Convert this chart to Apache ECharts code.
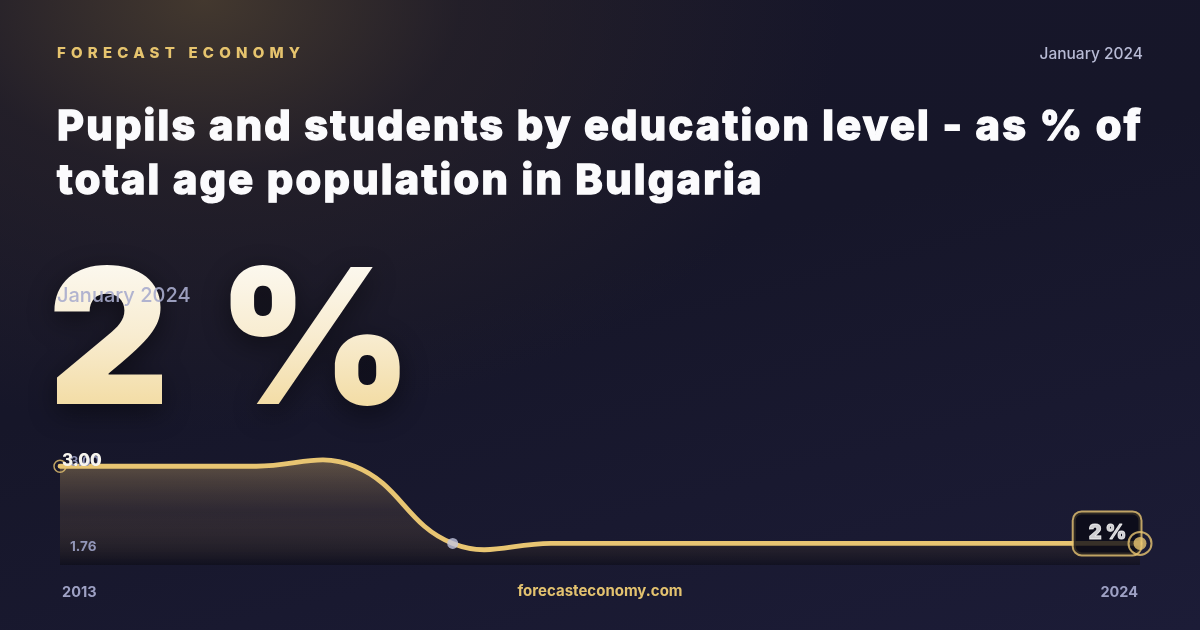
<!DOCTYPE html>
<html><head><meta charset="utf-8">
<script src="https://cdn.jsdelivr.net/npm/echarts@6/dist/echarts.min.js"></script>
<style>
html,body{margin:0;padding:0;width:1200px;height:630px;overflow:hidden;}
body{position:relative;font-family:Inter,'Noto Sans',sans-serif;
background:
 radial-gradient(ellipse 640px 430px at 17% 0%, rgba(72,60,47,0.9) 0%, rgba(45,38,40,0.55) 40%, rgba(22,22,42,0) 100%),
 linear-gradient(165deg,#17162a 0%,#161629 45%,#1c1c37 100%);}
#chart{position:absolute;left:0;top:0;width:1200px;height:630px;}
.t{position:absolute;white-space:nowrap;}
#brand{left:57px;top:43px;font-size:15px;line-height:20px;font-weight:800;letter-spacing:5.2px;color:#e6c46e;}
#date{right:57px;top:44px;font-size:15.5px;line-height:20px;font-weight:500;color:#b7bad4;}
#title{left:57px;top:98px;font-size:41.5px;line-height:54px;font-weight:800;color:#fbfbfd;-webkit-text-stroke:1.3px #fbfbfd;}
#big{left:48px;top:242px;font-size:188px;line-height:188px;font-weight:900;letter-spacing:5px;
 background:linear-gradient(180deg,#fdfcf8 0%,#f8ecd0 50%,#f1d796 100%);-webkit-background-clip:text;background-clip:text;
 -webkit-text-fill-color:transparent;color:transparent;filter:drop-shadow(0 8px 14px rgba(0,0,0,0.45));}
#date2{left:57px;top:283px;font-size:20px;line-height:24px;font-weight:500;color:rgba(168,172,205,0.9);}
#site{left:0;width:1200px;text-align:center;top:581px;font-size:15px;line-height:20px;font-weight:700;color:#e3c26f;}
</style></head>
<body>
<div id="chart"></div>
<div class="t" id="brand">FORECAST ECONOMY</div>
<div class="t" id="date">January 2024</div>
<div class="t" id="title"><span id="tl1">Pupils and students by education level - as % of</span><br><span id="tl2">total age population in Bulgaria</span></div>
<div class="t" id="big">2 %</div>
<div class="t" id="date2">January 2024</div>
<div class="t" id="site">forecasteconomy.com</div>
<script>
const years = ['2013','2014','2015','2016','2017','2018','2019','2020','2021','2022','2023','2024'];
const values = [3, 3, 3, 3, 2, 2, 2, 2, 2, 2, 2, 2];
const yTickLabels = ['3.00', '1.76'];
const yAxisMin = 1.72;
const yAxisMax = 3.12;
const highlightIndex = 4;
const unit = '%';
const smoothness = 0.42;
const GOLD = '#e8c572';

// fit first title line to the reference width
(function () {
  const t = document.getElementById('title');
  const l1 = document.getElementById('tl1');
  const w = l1.getBoundingClientRect().width;
  const target = 1086;
  const n = l1.textContent.length;
  const ls = Math.max(-1, Math.min(3, (target - w) / n));
  t.style.letterSpacing = ls + 'px';
})();

function buildPath(pts, s) {
  const cps = pts.map((p, i) => {
    if (i === 0 || i === pts.length - 1) return { b: p, f: p };
    const prev = pts[i - 1], next = pts[i + 1];
    const vx = next[0] - prev[0], vy = next[1] - prev[1];
    const l0 = Math.hypot(p[0] - prev[0], p[1] - prev[1]);
    const l1 = Math.hypot(next[0] - p[0], next[1] - p[1]);
    const r = l1 / (l0 + l1);
    return { b: [p[0] - vx * s * (1 - r), p[1] - vy * s * (1 - r)], f: [p[0] + vx * s * r, p[1] + vy * s * r] };
  });
  let d = 'M' + pts[0][0] + ',' + pts[0][1];
  for (let i = 1; i < pts.length; i++) {
    const c0 = cps[i - 1].f, c1 = cps[i].b, p = pts[i];
    d += ' C' + c0[0] + ',' + c0[1] + ' ' + c1[0] + ',' + c1[1] + ' ' + p[0] + ',' + p[1];
  }
  return d;
}

const last = values.length - 1;
const chart = echarts.init(document.getElementById('chart'), null, { renderer: 'canvas' });
const areaFill = new echarts.graphic.LinearGradient(0, 0, 0, 1, [
  { offset: 0, color: 'rgba(238,196,118,0.34)' },
  { offset: 0.5, color: 'rgba(160,126,80,0.16)' },
  { offset: 1, color: 'rgba(8,8,14,0.45)' }
]);

chart.setOption({
  animation: false,
  grid: { left: 60, right: 60, top: 457, bottom: 65 },
  xAxis: {
    type: 'category', data: years, boundaryGap: false,
    axisLine: { show: false }, axisTick: { show: false }, splitLine: { show: false },
    axisLabel: {
      interval: (i) => i === 0 || i === years.length - 1,
      alignMinLabel: 'left', alignMaxLabel: 'right',
      color: '#9ea1c4', fontSize: 14.5, fontWeight: 700, fontFamily: 'Inter', margin: 20,
      padding: [0, 2, 0, 2]
    }
  },
  yAxis: {
    type: 'value', min: yAxisMin, max: yAxisMax,
    axisLine: { show: false }, axisTick: { show: false }, splitLine: { show: false }, axisLabel: { show: false }
  },
  series: [
    {
      type: 'custom', coordinateSystem: 'cartesian2d', z: 2, silent: true,
      data: values.map((v, i) => [i, v]),
      encode: { x: 0, y: 1 },
      renderItem: function (params, api) {
        if (params.dataIndex !== 0) return null;
        const pts = values.map((v, i) => api.coord([i, v]));
        const line = buildPath(pts, smoothness);
        const bottom = params.coordSys.y + params.coordSys.height;
        const area = line + ' L' + pts[last][0] + ',' + bottom + ' L' + pts[0][0] + ',' + bottom + ' Z';
        return {
          type: 'group', children: [
            { type: 'path', shape: { pathData: area }, style: { fill: areaFill, stroke: 'none' } },
            { type: 'path', shape: { pathData: line }, style: { fill: 'none', stroke: GOLD, lineWidth: 4.8, lineJoin: 'round', lineCap: 'round' } }
          ]
        };
      }
    },
    {
      type: 'scatter', z: 4, silent: true, symbolSize: 12,
      data: [[0, values[0]]],
      itemStyle: { color: 'rgba(0,0,0,0)', borderColor: GOLD, borderWidth: 1.5 }
    },
    {
      type: 'scatter', z: 4, silent: true, symbolSize: 11,
      data: [[highlightIndex, values[highlightIndex]]],
      itemStyle: { color: '#c3c6dd' }
    },
    {
      type: 'scatter', z: 3, silent: true, symbolSize: 1,
      data: [[last, values[last]]],
      itemStyle: { color: 'rgba(0,0,0,0)' },
      label: {
        show: true, position: 'left', distance: 0, offset: [1, -10],
        formatter: () => values[last] + ' ' + unit,
        color: '#ffffff', fontSize: 20, fontWeight: 900, fontFamily: 'Inter', lineHeight: 22,
        textBorderColor: '#ffffff', textBorderWidth: 0.8,
        backgroundColor: '#0a0a15', borderColor: GOLD, borderWidth: 2, borderRadius: 8,
        padding: [10, 14, 10, 15]
      }
    },
    {
      type: 'scatter', z: 5, silent: true, symbolSize: 23,
      data: [[last, values[last]]],
      itemStyle: { color: 'rgba(0,0,0,0)', borderColor: GOLD, borderWidth: 2 }
    },
    {
      type: 'scatter', z: 5, silent: true, symbolSize: 13,
      data: [[last, values[last]]],
      itemStyle: { color: GOLD }
    }
  ]
});

const yTop = chart.convertToPixel({ yAxisIndex: 0 }, values[0]);
const gridBottom = 630 - 65;
chart.setOption({
  graphic: [
    { type: 'text', left: 70, top: yTop - 11, z: 6, silent: true,
      style: { text: yTickLabels[0], fill: '#8f93b5', font: '700 13px Inter' } },
    { type: 'text', left: 62, top: yTop - 14, z: 7, silent: true,
      style: { text: yTickLabels[0], fill: '#f7f5ee', font: '800 17px Inter', shadowBlur: 4, shadowColor: 'rgba(0,0,0,0.5)' } },
    { type: 'text', left: 70, top: gridBottom - 25, z: 6, silent: true,
      style: { text: yTickLabels[1], fill: '#9296b8', font: '700 13.5px Inter' } }
  ]
});
</script>
</body></html>
